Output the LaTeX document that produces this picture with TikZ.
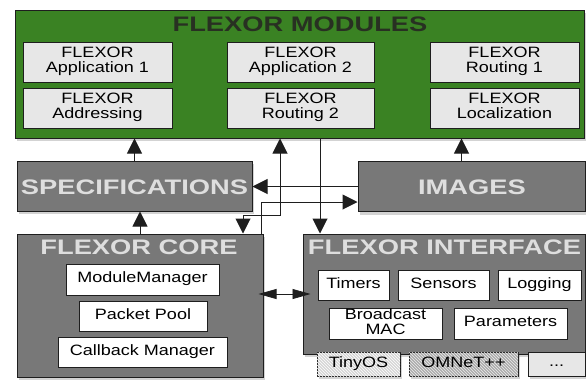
\documentclass[tikz,border=0pt]{standalone}
\usepackage{fontspec}
\usepackage{graphicx}
\setmainfont{Liberation Sans}
\usetikzlibrary{arrows.meta,shadows,patterns}
\definecolor{modgreen}{RGB}{58,130,35}
\definecolor{outgray}{RGB}{120,120,120}
\definecolor{ingray}{RGB}{231,231,231}
\definecolor{tinygray}{RGB}{214,214,214}
\definecolor{omngray}{RGB}{172,172,172}
\definecolor{titlelight}{RGB}{222,222,222}
\definecolor{titledark}{RGB}{40,48,34}
\definecolor{edge}{RGB}{30,30,30}
\newcommand\ttlw[1]{\scalebox{1.3}[1]{#1}}
\newcommand\inw[1]{\scalebox{1.2}[1]{\begin{tabular}{@{}c@{}}#1\end{tabular}}}
\begin{document}
\begin{tikzpicture}[x=1pt,y=-1pt,
  shd/.style={drop shadow={shadow xshift=2pt,shadow yshift=-3pt,opacity=0.35}},
  outer/.style={draw=edge, line width=1pt, fill=outgray, inner sep=0pt, shd},
  modbox/.style={draw=edge, line width=1pt, fill=modgreen, inner sep=0pt, shd},
  inbox/.style={draw=edge, line width=0.8pt, fill=ingray, inner sep=0pt, font=\fontsize{15}{14.5}\selectfont},
  wbox/.style={draw=edge, line width=0.8pt, fill=white, inner sep=0pt, font=\fontsize{15}{14.5}\selectfont},
  tile/.style={draw=edge, line width=0.8pt, inner sep=0pt, font=\fontsize{15}{14.5}\selectfont, shd},
  ttl/.style={inner sep=0pt, font=\bfseries\fontsize{21}{21}\selectfont},
  arr/.style={line width=1pt, draw=edge, -{Triangle[width=15pt,length=15pt]}},
  biarr/.style={line width=1pt, draw=edge, {Triangle[width=15pt,length=15pt]}-{Triangle[width=15pt,length=15pt]}},
  dbl/.style={line width=0.7pt, draw=edge, {Triangle[width=10pt,length=18pt]}-{Triangle[width=10pt,length=18pt]}}
]
\useasboundingbox (0,0) rectangle (586,381);

% FLEXOR MODULES
\node[modbox, minimum width=569pt, minimum height=128pt] (mods) at (299.5,74) {};
\node[ttl, text=titledark] (modsT) at (300,24.5) {\ttlw{FLEXOR MODULES}};
\node[inbox, minimum width=149pt, minimum height=40pt] (app1) at (97.5,62) {\inw{FLEXOR\\Application 1}};
\node[inbox, minimum width=149pt, minimum height=40pt] (addr) at (97.5,108) {\inw{FLEXOR\\Addressing}};
\node[inbox, minimum width=147pt, minimum height=40pt] (app2) at (300.5,62) {\inw{FLEXOR\\Application 2}};
\node[inbox, minimum width=147pt, minimum height=40pt] (rout2) at (300.5,108) {\inw{FLEXOR\\Routing 2}};
\node[inbox, minimum width=149pt, minimum height=40pt] (rout1) at (504.5,62) {\inw{FLEXOR\\Routing 1}};
\node[inbox, minimum width=149pt, minimum height=40pt] (loc) at (504.5,108) {\inw{FLEXOR\\Localization}};

% SPECIFICATIONS / IMAGES
\node[outer, minimum width=235pt, minimum height=50pt] (spec) at (134.5,186) {};
\node[ttl, text=titlelight] (specT) at (134.5,187) {\ttlw{SPECIFICATIONS}};
\node[outer, minimum width=227pt, minimum height=50pt] (images) at (471.5,186.5) {};
\node[ttl, text=titlelight] (imagesT) at (472,187) {\ttlw{IMAGES}};

% FLEXOR CORE
\node[outer, minimum width=246pt, minimum height=143pt] (core) at (140,305.5) {};
\node[ttl, text=titlelight] (coreT) at (139,247) {\ttlw{FLEXOR CORE}};
\node[wbox, minimum width=153pt, minimum height=31pt] (mm) at (142.5,279.5) {\inw{ModuleManager}};
\node[wbox, minimum width=128pt, minimum height=30pt] (pp) at (143,316) {\inw{Packet Pool}};
\node[wbox, minimum width=169pt, minimum height=30pt] (cb) at (142.5,352) {\inw{Callback Manager}};

% FLEXOR INTERFACE
\node[outer, minimum width=282pt, minimum height=120pt] (iface) at (444,294) {};
\node[ttl, text=titlelight] (ifaceT) at (444.5,247.5) {\ttlw{FLEXOR INTERFACE}};
\node[wbox, minimum width=71pt, minimum height=30pt] (timers) at (353.5,285) {\inw{Timers}};
\node[wbox, minimum width=91pt, minimum height=30pt] (sensors) at (443.5,285) {\inw{Sensors}};
\node[wbox, minimum width=83pt, minimum height=30pt] (logging) at (539.5,285) {\inw{Logging}};
\node[wbox, minimum width=113pt, minimum height=31pt] (bmac) at (385.5,323.5) {\inw{Broadcast\\MAC}};
\node[wbox, minimum width=113pt, minimum height=31pt] (params) at (510.5,323.5) {\inw{Parameters}};
\node[tile, fill=tinygray, postaction={pattern=north west lines, pattern color=white}, minimum width=83pt, minimum height=24pt] (tinyos) at (358.5,364) {\inw{TinyOS}};
\node[tile, fill=omngray, postaction={pattern=north west lines, pattern color=white!85!gray}, minimum width=109pt, minimum height=24pt] (omnet) at (463.5,364) {\inw{OMNeT++}};
\node[tile, fill=ingray, minimum width=57pt, minimum height=24pt] (dots) at (556.5,364) {\inw{...}};

% connectors
\draw[arr] (spec.north) -- (spec.north |- mods.south);
\draw[arr] (core.north) -- (core.north |- spec.south);
\draw[arr] ([xshift=-10pt]images.north) -- ([xshift=-10pt]images.north |- mods.south);
\draw[biarr] ([xshift=-19.5pt]mods.south) -- ++(0,77) -| ([xshift=103pt]core.north);
\draw[arr] ([xshift=20.5pt]mods.south) -- ([xshift=20.5pt]mods.south |- iface.north);
\draw[arr] (images.west) -- (images.west -| spec.east);
\draw[arr] ([xshift=121pt]core.north) |- ([yshift=-15.5pt]images.west);
\draw[dbl] ([xshift=-5pt]core.east |- iface.west) -- ([xshift=8pt]iface.west);
\end{tikzpicture}
\end{document}
